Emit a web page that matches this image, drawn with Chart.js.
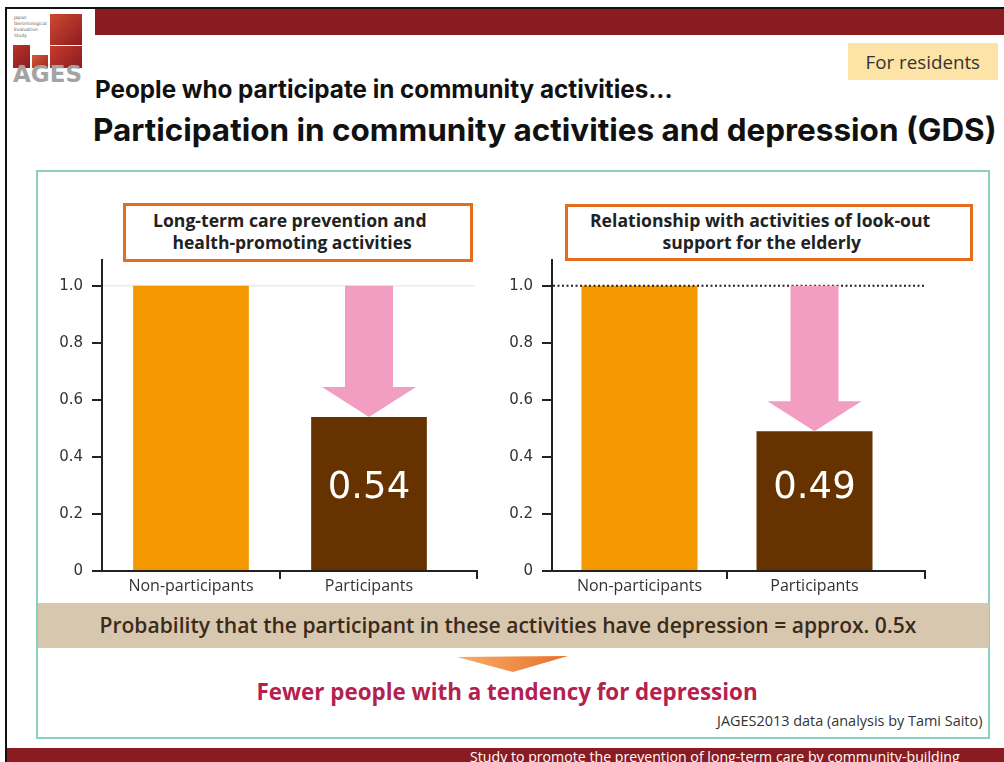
<!DOCTYPE html>
<html>
<head>
<meta charset="utf-8">
<title>Participation in community activities and depression (GDS)</title>
<script src="https://cdn.jsdelivr.net/npm/chart.js@4.4.1/dist/chart.umd.min.js"></script>
<style>
  html, body { margin: 0; padding: 0; background: #fff; }
  body { width: 1004px; height: 762px; position: relative; overflow: hidden; font-family: "Open Sans", sans-serif; }
  .abs { position: absolute; box-sizing: border-box; }
  .t { position: absolute; white-space: nowrap; height: 40px; line-height: 40px; }
  canvas { position: absolute; }
</style>
</head>
<body>

<!-- slide frame and header band -->
<div class="abs" style="left:5px;top:7px;width:999px;height:2px;background:#111"></div>
<div class="abs" style="left:5px;top:7px;width:2px;height:755px;background:#111"></div>
<div class="abs" style="left:95px;top:9px;width:909px;height:26px;background:#8a1c21"></div>
<div class="abs" style="left:7px;top:748px;width:997px;height:14px;background:#8a1c21"></div>

<!-- logo -->
<div class="abs" style="left:14px;top:15px;width:34px;font:4.5px/6px 'DejaVu Sans';color:#666">Japan<br>Gerontological<br>Evaluation<br>Study</div>
<div class="abs" style="left:50px;top:14px;width:32px;height:31px;background:linear-gradient(135deg,#cf4a32,#8e1b1f)"></div>
<div class="abs" style="left:50px;top:46px;width:32px;height:22px;background:linear-gradient(135deg,#c53c2c,#8e1b1f)"></div>
<div class="abs" style="left:13px;top:45px;width:17px;height:23px;background:linear-gradient(135deg,#b8342a,#8e1b1f)"></div>
<div class="abs" style="left:32px;top:55px;width:16px;height:13px;background:linear-gradient(135deg,#d65a3a,#a0261f)"></div>
<span class="t" data-x="13" data-cy="81" data-w="69" style="font:bold 20px 'DejaVu Sans';color:#a3a3a3">AGES</span>

<span class="t" data-x="95" data-cy="95" data-w="578" style="font:700 19px Inter;color:#111">People who participate in community activities...</span>
<span class="t" data-x="93" data-cy="131" data-w="904" style="font:700 26px Inter;color:#111">Participation in community activities and depression (GDS)</span>

<div class="abs" style="left:848px;top:43px;width:150px;height:37px;background:#fde4a6"></div>
<span class="t" data-cx="923" data-cy="69" data-w="115" style="font:400 16px 'Open Sans';color:#333">For residents</span>

<!-- panel -->
<div class="abs" style="left:36px;top:170px;width:954px;height:569px;border:2px solid #8ccfbf"></div>
<div class="abs" style="left:123px;top:203px;width:350px;height:59px;border:3px solid #e36c1e"></div>
<div class="abs" style="left:565px;top:204px;width:408px;height:57px;border:3px solid #e36c1e"></div>
<span class="t" data-cx="290" data-cy="228" data-w="274" style="font:700 16px 'Open Sans';color:#222">Long-term care prevention and</span>
<span class="t" data-cx="292" data-cy="250" data-w="240" style="font:700 16px 'Open Sans';color:#222">health-promoting activities</span>
<span class="t" data-cx="760" data-cy="228" data-w="340" style="font:700 16px 'Open Sans';color:#222">Relationship with activities of look-out</span>
<span class="t" data-cx="762" data-cy="250" data-w="199" style="font:700 16px 'Open Sans';color:#222">support for the elderly</span>

<canvas id="preventionChart" width="460" height="361" style="left:30px;top:242px"></canvas>
<canvas id="lookoutChart" width="460" height="361" style="left:480px;top:242px"></canvas>

<div class="abs" style="left:38px;top:603px;width:951px;height:45px;background:#d8c7af"></div>
<span class="t" data-cx="508" data-cy="631" data-w="817" style="font:600 21px 'Open Sans';color:#3b2a1a">Probability that the participant in these activities have depression = approx. 0.5x</span>

<svg class="abs" style="left:455px;top:655px" width="116" height="20">
  <defs>
    <linearGradient id="chev" x1="0" y1="0" x2="1" y2="0">
      <stop offset="0" stop-color="#f7ad6a"/>
      <stop offset="1" stop-color="#e8702a"/>
    </linearGradient>
  </defs>
  <polygon points="2,2 113,1 58,17" fill="url(#chev)"/>
</svg>
<span class="t" data-cx="507" data-cy="696" data-w="501" style="font:700 22px 'Open Sans';color:#b3214f">Fewer people with a tendency for depression</span>
<span class="t" data-x="717" data-cy="731" data-w="265" style="font:400 14px 'Open Sans';color:#333">JAGES2013 data (analysis by Tami Saito)</span>
<span class="t" data-x="470" data-cy="767" data-w="490" style="font:400 14px 'Open Sans';color:#fff">Study to promote the prevention of long-term care by community-building</span>

<script>
// odds of depression relative to non-participants
const categories = ['Non-participants', 'Participants'];
const preventionRatio = [1.0, 0.54];
const lookoutRatio = [1.0, 0.49];
const yTickValues = [0, 0.2, 0.4, 0.6, 0.8, 1.0];
const barColors = ['#f39800', '#663300'];

// size each text line to its box and place it by its centre line
document.querySelectorAll('.t').forEach(el => {
  const base = parseFloat(getComputedStyle(el).fontSize);
  el.style.fontSize = (base * el.dataset.w / el.offsetWidth).toFixed(2) + 'px';
  const x = el.dataset.cx ? el.dataset.cx - el.offsetWidth / 2 : +el.dataset.x;
  el.style.left = x + 'px';
  el.style.top = (el.dataset.cy - 20) + 'px';
});

// pink arrow from the reference level down to the participants' bar, plus its value
const dropArrow = {
  id: 'dropArrow',
  afterDatasetsDraw(chart) {
    const { ctx } = chart;
    const y = chart.scales.y;
    const values = chart.data.datasets[0].data;
    const bar = chart.getDatasetMeta(0).data[1];
    const top = y.getPixelForValue(values[0]);
    const tip = y.getPixelForValue(values[1]);
    const shaft = 24, head = 47, headH = 30;
    ctx.save();
    ctx.fillStyle = '#f19ec2';
    ctx.beginPath();
    ctx.moveTo(bar.x - shaft, top);
    ctx.lineTo(bar.x + shaft, top);
    ctx.lineTo(bar.x + shaft, tip - headH);
    ctx.lineTo(bar.x + head, tip - headH);
    ctx.lineTo(bar.x, tip);
    ctx.lineTo(bar.x - head, tip - headH);
    ctx.lineTo(bar.x - shaft, tip - headH);
    ctx.closePath();
    ctx.fill();
    ctx.fillStyle = '#fff';
    ctx.font = '37px "DejaVu Sans"';
    ctx.textAlign = 'center';
    ctx.textBaseline = 'middle';
    ctx.fillText(values[1].toFixed(2), bar.x, y.getPixelForValue(0.29));
    ctx.restore();
  }
};

// line at 1.0 (faint behind the bars, or dotted on top) and the x axis running past the last bar
const refLine = {
  id: 'refLine',
  draw(chart, opts) {
    const { ctx, chartArea } = chart;
    const y1 = chart.scales.y.getPixelForValue(1);
    ctx.save();
    ctx.strokeStyle = opts.color;
    ctx.lineWidth = opts.width;
    ctx.setLineDash(opts.dash || []);
    ctx.beginPath();
    ctx.moveTo(chartArea.left + 1, y1);
    ctx.lineTo(chartArea.right + opts.tail, y1);
    ctx.stroke();
    ctx.restore();
  },
  beforeDatasetsDraw(chart, args, opts) { if (!opts.dash) this.draw(chart, opts); },
  afterDatasetsDraw(chart, args, opts) { if (opts.dash) this.draw(chart, opts); },
  afterDraw(chart, args, opts) {
    const { ctx, chartArea } = chart;
    const y0 = chart.scales.y.getPixelForValue(0);
    const end = chartArea.right + opts.axisTail;
    ctx.save();
    ctx.strokeStyle = '#222';
    ctx.lineWidth = 2;
    ctx.beginPath();
    ctx.moveTo(chartArea.right - 1, y0);
    ctx.lineTo(end, y0);
    ctx.moveTo(end, y0 - 1);
    ctx.lineTo(end, y0 + 8);
    ctx.stroke();
    ctx.restore();
  }
};

function ratioChart(id, values, padRight, barPct, line) {
  return new Chart(document.getElementById(id), {
    type: 'bar',
    data: {
      labels: categories,
      datasets: [{
        data: values,
        backgroundColor: barColors,
        borderWidth: 0,
        barPercentage: barPct,
        categoryPercentage: 1.0
      }]
    },
    options: {
      responsive: false,
      animation: false,
      layout: { padding: { top: 12, right: padRight, left: 0, bottom: 0 } },
      plugins: { legend: { display: false }, tooltip: { enabled: false }, refLine: line },
      scales: {
        x: {
          grid: {
            offset: true,
            drawOnChartArea: false,
            tickLength: 8,
            lineWidth: 2,
            color: '#222',
            tickColor: c => (c.type === 'tick' && c.index > 0) ? '#222' : 'rgba(0,0,0,0)'
          },
          border: { color: '#222', width: 2 },
          ticks: { color: '#333', font: { family: 'Open Sans', size: 16 }, padding: -2, maxRotation: 0 },
          afterFit: s => { s.height = 32; }
        },
        y: {
          min: 0,
          max: 1.09,
          afterBuildTicks: s => { s.ticks = yTickValues.map(v => ({ value: v })); },
          grid: { drawOnChartArea: false, tickLength: 10, lineWidth: 2, color: '#222' },
          border: { color: '#222', width: 2 },
          ticks: {
            color: '#333',
            font: { family: 'DejaVu Sans', size: 15 },
            padding: 9,
            callback: v => v === 0 ? '0' : v.toFixed(1)
          },
          afterFit: s => { s.width = 72; }
        }
      }
    },
    plugins: [refLine, dropArrow]
  });
}

ratioChart('preventionChart', preventionRatio, 32, 0.65,
  { color: '#ececec', width: 1.5, tail: 17, axisTail: 19 });
ratioChart('lookoutChart', lookoutRatio, 38, 0.663,
  { color: '#222', width: 2, dash: [2, 2.5], tail: 23, axisTail: 23 });
</script>
</body>
</html>
